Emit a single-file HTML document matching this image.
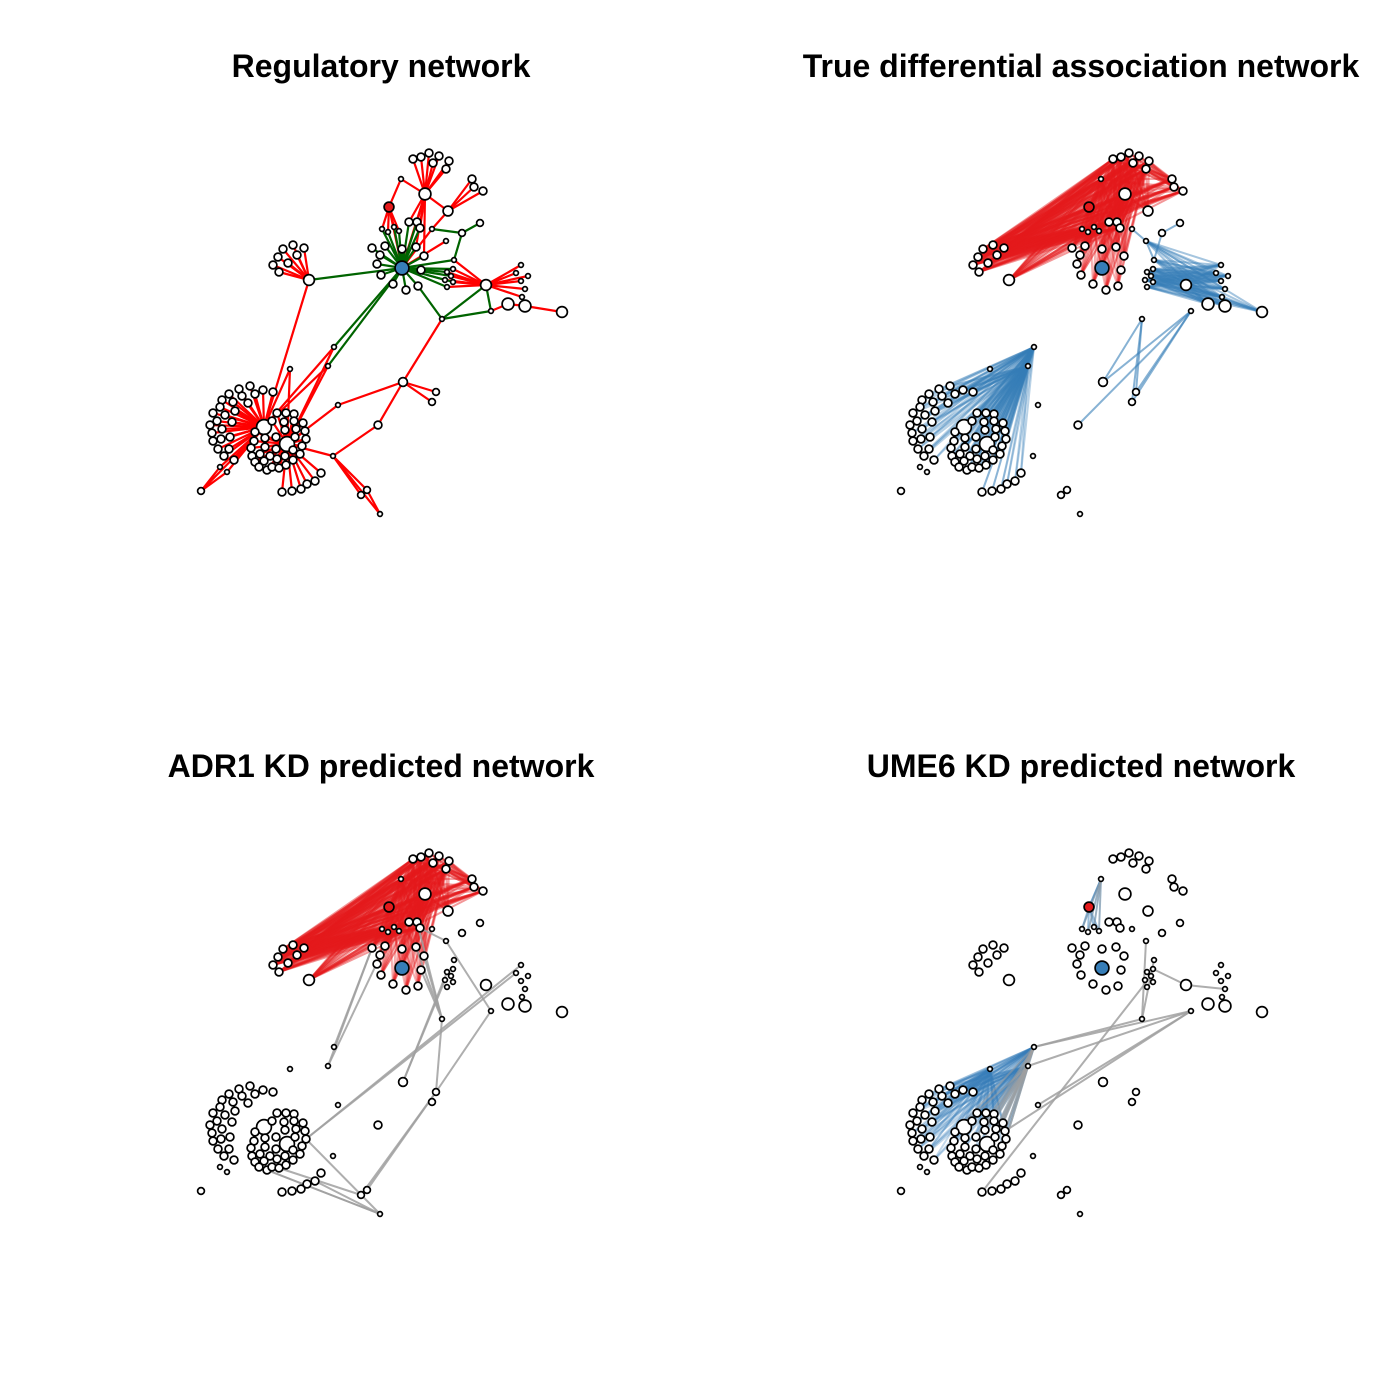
<!DOCTYPE html>
<html><head><meta charset="utf-8"><style>
html,body{margin:0;padding:0;background:#fff;}
svg{display:block}
text{font-family:"Liberation Sans",Arial,sans-serif;font-weight:bold;font-size:32px;text-anchor:middle;fill:#000}
</style></head><body>
<svg id="s" width="1400" height="1400" viewBox="0 0 1400 1400" xmlns="http://www.w3.org/2000/svg">
<text x="381" y="77">Regulatory network</text>
<text x="1081" y="77">True differential association network</text>
<text x="381" y="777">ADR1 KD predicted network</text>
<text x="1081" y="777">UME6 KD predicted network</text>
</svg>
<script>
const S=document.getElementById('s'),NS='http://www.w3.org/2000/svg';
function P(x,y,r,f){return {x:x,y:y,r:r+0.4,f:f||'#fff'};}
const TH=P(425,194,5.5),TL=[[413,159],[421,157],[429,153],[439,156],[449,161],[446,169],[433,163]].map(a=>P(a[0],a[1],3.5));
const s179=P(401,179,2),RN=P(389,207,4.5,'#e41a1c'),RH=P(448,211,4.5);
const RHL=[[472,179],[474,187],[483,191]].map(a=>P(a[0],a[1],3.5));
const SM4=[[382,229],[388,232],[394,227],[399,231]].map(a=>P(a[0],a[1],2));
const T3=[[409,222],[417,222],[420,228]].map(a=>P(a[0],a[1],3.5));
const s229=P(432,229,2),n233=P(462,233,3),n223=P(480,223,3),s241=P(446,241,2);
const BH=P(402,268,6.5,'#377eb8');
const RING=[[372,248],[385,246],[380,255],[402,249],[416,247],[424,256],[377,264],[381,275],[393,284],[406,290],[418,286],[421,270]].map(a=>P(a[0],a[1],3.5));
const S7=[[454,260],[453,269],[447,272],[451,276],[445,280],[453,282],[447,287]].map(a=>P(a[0],a[1],2));
const RHUB=P(486,285,5);
const RL=[[521,265],[516,273],[528,276],[521,281],[525,289],[522,297]].map(a=>P(a[0],a[1],2));
const M=[P(508,304,5.5),P(525,306,5.5),P(562,312,5)];
const s311=P(491,311,2),s319=P(442,319,2);
const LH=P(309,280,5);
const LL=[[279,272],[273,265],[278,257],[283,249],[293,245],[304,248],[297,255],[288,263]].map(a=>P(a[0],a[1],3.5));
const s369=P(290,369,2),s347=P(334,347,2),s366=P(328,366,2);
const N382=P(403,382,4),N392=P(436,392,3),N402=P(432,402,3),s405=P(338,405,2),N425=P(378,425,3.5);
const s456=P(333,456,2),N490=P(367,490,3),N495=P(361,495,3),s514=P(380,514,2);
const N491=P(201,491,3),s467=P(220,467,2),s472=P(227,472,2);
const HA=P(264,427,7),HB=P(287,444,7);
const CA=[[239,389],[250,386],[263,390],[273,392],[255,394],[242,396],[229,394],[222,400],[233,402],[248,403],[220,407],[213,413],[225,415],[235,411],[217,421],[232,422],[210,425],[222,429],[212,433],[230,437],[221,439],[213,441],[229,449],[218,449],[224,456],[234,460]].map(a=>P(a[0],a[1],3.5));
const CB=[[277,413],[286,413],[294,414],[272,421],[284,422],[294,421],[303,423],[305,431],[296,429],[285,430],[255,432],[276,437],[295,437],[306,439],[254,441],[265,438],[302,446],[251,448],[265,447],[276,449],[293,450],[300,454],[252,456],[260,454],[270,456],[285,456],[255,462],[264,461],[277,459],[293,460],[259,467],[267,470],[272,467],[279,468],[286,465]].map(a=>P(a[0],a[1],3.5));
const BL=[[282,492],[292,491],[301,489],[307,484],[315,481],[321,473]].map(a=>P(a[0],a[1],3.5));
const ALL=[TH,...TL,s179,RN,RH,...RHL,...SM4,...T3,s229,n233,n223,s241,BH,...RING,...S7,RHUB,...RL,...M,s311,s319,LH,...LL,s369,s347,s366,N382,N392,N402,s405,N425,s456,N490,N495,s514,N491,s467,s472,HA,HB,...CA,...CB,...BL];
let buf='';
function E(a,b,c,o,w,ox,oy){buf+=`<line x1="${a.x+ox}" y1="${a.y+oy}" x2="${b.x+ox}" y2="${b.y+oy}" stroke="${c}" stroke-opacity="${o}" stroke-width="${w}"/>`;}
function many(A,B,c,o,w,ox,oy){A.forEach(a=>B.forEach(b=>E(a,b,c,o,w,ox,oy)));}
function nodes(ox,oy){ALL.forEach(n=>{buf+=`<circle cx="${n.x+ox}" cy="${n.y+oy}" r="${n.r}" fill="${n.f}" stroke="#000" stroke-width="1.7"/>`;});}
(function(){const ox=0,oy=0,R='#ff0000',G='#006400',w=2.2;
const r=(a,b)=>E(a,b,R,1,w,ox,oy),g=(a,b)=>E(a,b,G,1,w,ox,oy);
TL.forEach(l=>r(TH,l));r(TH,s179);r(s179,RN);r(TH,RH);RHL.forEach(l=>r(RH,l));r(RH,s229);
T3.forEach(t=>r(TH,t));r(TH,BH);r(TH,RING[4]);r(TH,RING[5]);SM4.forEach(s=>r(RN,s));r(RN,BH);r(s241,BH);r(s229,BH);
RL.forEach(l=>r(RHUB,l));S7.forEach(s=>r(RHUB,s));r(s311,M[0]);r(M[0],M[1]);r(M[1],M[2]);
LL.forEach(l=>r(LH,l));r(LH,HA);r(s369,HA);r(s369,HB);r(s347,HA);r(s347,HB);r(s366,HB);r(s366,HA);
r(N382,s405);r(s405,HB);r(N382,N392);r(N382,N402);r(s319,N382);r(N382,N425);r(N425,s456);r(s456,HB);
[N490,N495,s514].forEach(n=>r(s456,n));r(N490,s514);r(N491,HA);r(N491,s467);r(N491,s472);r(s467,HA);r(s472,HA);
CA.forEach(c=>r(HA,c));CB.forEach(c=>r(HB,c));BL.forEach(c=>r(HB,c));
RING.forEach(c=>g(BH,c));SM4.forEach(c=>g(BH,c));T3.forEach(c=>g(BH,c));g(BH,LH);g(BH,s347);g(BH,s366);
S7.forEach(c=>g(BH,c));g(RING[10],s319);g(s229,n233);g(n233,n223);g(n233,S7[0]);g(s319,s311);g(s311,RHUB);g(s319,RHUB);
nodes(ox,oy);})();
function redSet(ox,oy){const R='#e41a1c';
many([LH,...LL],[TH,...TL,s179,RN,...RHL,...SM4,...T3],R,0.45,2,ox,oy);
many([...TL,TH,s179],[...RHL,RH,...T3,RN],R,0.4,2,ox,oy);
many([...TL,s179,RN],[...RING.slice(0,11),BH],R,0.35,2,ox,oy);}
(function(){const ox=700,oy=0,B='#377eb8';redSet(ox,oy);
many([...S7,RHUB,s241],[M[2],M[0],M[1],...RL],B,0.45,2,ox,oy);
E(s229,s241,B,.6,2,ox,oy);E(s241,S7[0],B,.6,2,ox,oy);E(n233,n223,B,.6,2,ox,oy);E(n233,S7[0],B,.6,2,ox,oy);
many([s311,s319],[N382,N392,N402],B,0.6,2,ox,oy);E(s311,N425,B,.6,2,ox,oy);
many([HA,HB,...CA,...CB,...BL],[s347,s366],B,0.35,2,ox,oy);
nodes(ox,oy);})();
(function(){const ox=0,oy=700,Gr='#a0a0a0';redSet(ox,oy);
const g=(a,b)=>E(a,b,Gr,0.85,2,ox,oy);
g(RING[0],s347);g(RING[0],s366);g(RING[1],s366);g(T3[1],s319);g(RING[4],s319);g(RING[5],s319);g(RING[11],s319);
g(s319,N392);g(S7[2],N382);g(S7[4],N382);g(T3[2],s241);g(s241,s311);g(s311,N392);
g(RL[0],CB[13]);g(RL[1],CB[13]);g(CB[13],s514);g(N392,N490);g(N392,N495);
g(CB[30],s514);g(CB[31],s514);g(BL[4],s514);g(CB[33],N495);
nodes(ox,oy);})();
(function(){const ox=700,oy=700,Gr='#a0a0a0',B='#377eb8';
const g=(a,b)=>E(a,b,Gr,0.85,2,ox,oy);
many([RN],[s179],B,.7,2,ox,oy);many(SM4,[s179,RN],B,.5,2,ox,oy);many(SM4,[s179],Gr,.5,1.5,ox,oy);
many([HA,...CA,...CB.slice(0,20)],[s347,s366,s369],B,0.3,2,ox,oy);
many([...CB.slice(5,14)],[s347,s366],Gr,0.5,2,ox,oy);
g(s241,s319);g(S7[1],RHUB);g(RHUB,RL[4]);g(S7[3],BL[0]);g(S7[0],s319);
g(s319,s347);g(s311,s347);g(s311,s366);g(s311,s405);g(s311,CB[7]);
nodes(ox,oy);})();
S.insertAdjacentHTML('beforeend',buf);
</script>
</body></html>
